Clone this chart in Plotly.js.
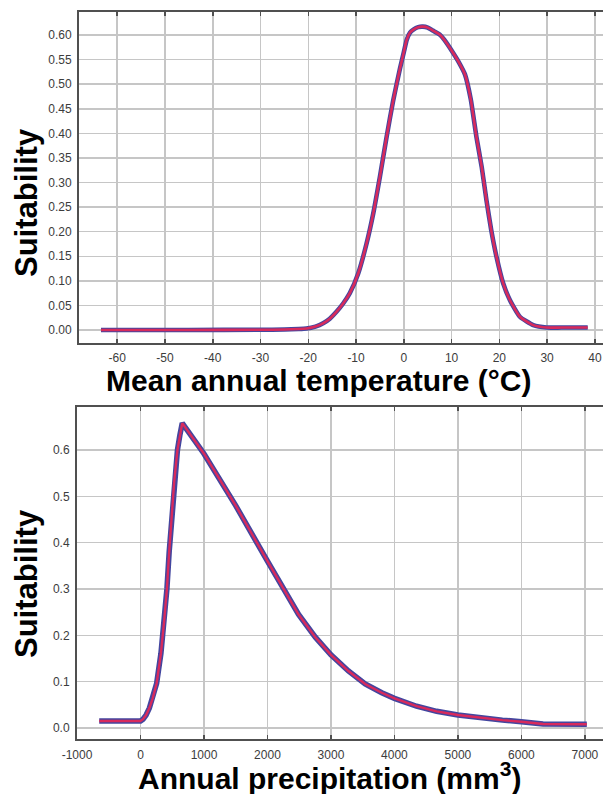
<!DOCTYPE html>
<html>
<head>
<meta charset="utf-8">
<script src="https://cdn.plot.ly/plotly-3.0.1.min.js"></script>
<style>
  html, body { margin: 0; padding: 0; background: #ffffff; }
  #chart { width: 603px; height: 794px; }
</style>
</head>
<body>
<div id="chart"></div>
<script>
// ---- Data ----
// Top panel: Mean annual temperature (°C) vs Suitability
var tempX = [-63.4, -45, -30, -25, -22, -20.4, -18.5, -16.9, -15.5, -14.1, -12.7, -11.3, -9.55, -7.8, -6.4, -5.0, -3.6, -2.2, -0.8, 0, 0.6, 1.3, 2.0, 3.0, 4.0, 5.0, 6.1, 7.5, 8.5, 10.3, 11.5, 12.8, 14.0, 15.2, 16.3, 17.3, 18.3, 19.4, 20.8, 22.2, 24.3, 27.1, 29.9, 33.0, 38.5];
var tempSuit = [0, 0, 0.0005, 0.001, 0.002, 0.003, 0.007, 0.0136, 0.023, 0.037, 0.054, 0.075, 0.115, 0.176, 0.237, 0.312, 0.393, 0.468, 0.532, 0.565, 0.59, 0.605, 0.611, 0.616, 0.617, 0.615, 0.609, 0.601, 0.59, 0.564, 0.545, 0.52, 0.47, 0.393, 0.332, 0.264, 0.203, 0.149, 0.095, 0.061, 0.027, 0.010, 0.005, 0.005, 0.005];
var tempTicks = [-60, -50, -40, -30, -20, -10, 0, 10, 20, 30, 40];
var tempYTicks = [0, 0.05, 0.10, 0.15, 0.20, 0.25, 0.30, 0.35, 0.40, 0.45, 0.50, 0.55, 0.60];

// Bottom panel: Annual precipitation vs Suitability
var precX = [-650, 0, 40, 88, 140, 192, 254, 322, 374, 416, 452, 489, 530, 582, 620, 658, 1000, 1500, 2000, 2250, 2490, 2754, 3000, 3275, 3539, 3800, 4000, 4348, 4665, 5000, 5390, 5700, 6000, 6340, 7030];
var precSuit = [0.015, 0.015, 0.019, 0.028, 0.043, 0.064, 0.096, 0.161, 0.233, 0.300, 0.380, 0.455, 0.530, 0.600, 0.632, 0.658, 0.592, 0.480, 0.360, 0.300, 0.245, 0.196, 0.158, 0.123, 0.095, 0.076, 0.064, 0.047, 0.036, 0.028, 0.021, 0.017, 0.0135, 0.0085, 0.008];
var precTicks = [-1000, 0, 1000, 2000, 3000, 4000, 5000, 6000, 7000];
var precYTicks = [0, 0.1, 0.2, 0.3, 0.4, 0.5, 0.6];

var topXTitle = 'Mean annual temperature (°C)';
var botXTitle = 'Annual precipitation (mm<sup>3</sup>)';
var yTitle = 'Suitability';

// ---- Styling ----
var W = 603, H = 794;
var BLUE = '#43469f', RED = '#d82a5c';
var FONT = 'Liberation Sans, Arial, Helvetica, sans-serif';
function px(x) { return x / W; }
function py(y) { return 1 - y / H; }
function hyphenLabels(arr) { return arr.map(function (v) { return String(v); }); }

var traces = [
  {x: tempX, y: tempSuit, xaxis: 'x', yaxis: 'y', mode: 'lines', line: {color: BLUE, width: 4.6, shape: 'spline', smoothing: 0.5}, hoverinfo: 'skip'},
  {x: tempX, y: tempSuit, xaxis: 'x', yaxis: 'y', mode: 'lines', line: {color: RED, width: 2.6, shape: 'spline', smoothing: 0.5}},
  {x: precX, y: precSuit, xaxis: 'x2', yaxis: 'y2', mode: 'lines', line: {color: BLUE, width: 5.5, shape: 'linear'}, hoverinfo: 'skip'},
  {x: precX, y: precSuit, xaxis: 'x2', yaxis: 'y2', mode: 'lines', line: {color: RED, width: 2.4, shape: 'linear'}}
];

var axisCommon = {
  showgrid: true, gridcolor: '#c6c6c6', gridwidth: 1.5,
  zeroline: false, showline: true, linecolor: '#505050', linewidth: 2,
  tickfont: {family: FONT, size: 12, color: '#3c3c3c'},
  fixedrange: true
};

function merge(a, b) { var o = {}; for (var k in a) o[k] = a[k]; for (var k2 in b) o[k2] = b[k2]; return o; }

var layout = {
  width: W, height: H,
  margin: {l: 0, r: 0, t: 0, b: 0, pad: 0},
  paper_bgcolor: '#ffffff', plot_bgcolor: '#ffffff',
  showlegend: false,
  xaxis: merge(axisCommon, {
    domain: [px(79), 1], range: [-68.0, 41.7], anchor: 'y',
    tickmode: 'array', tickvals: tempTicks, ticktext: hyphenLabels(tempTicks),
    ticks: 'inside', ticklen: 4, tickcolor: '#505050', tickwidth: 1.5,
    mirror: 'ticks', ticklabelstandoff: 3
  }),
  yaxis: merge(axisCommon, {
    domain: [py(343), py(11.7)], range: [-0.0264, 0.6474], anchor: 'x',
    tickmode: 'array', tickvals: tempYTicks, tickformat: '.2f', ticks: '', ticklabelstandoff: 3
  }),
  xaxis2: merge(axisCommon, {
    domain: [px(77), 1], range: [-1000, 7285], anchor: 'y2',
    tickmode: 'array', tickvals: precTicks, ticktext: hyphenLabels(precTicks),
    ticks: 'inside', ticklen: 4, tickcolor: '#505050', tickwidth: 1.5,
    mirror: 'ticks', ticklabelstandoff: 3
  }),
  yaxis2: merge(axisCommon, {
    domain: [py(739.3), py(406.7)], range: [-0.0244, 0.6935], anchor: 'x2',
    tickmode: 'array', tickvals: precYTicks, tickformat: '.1f', ticks: '', ticklabelstandoff: 3
  }),
  annotations: [
    {text: topXTitle, xref: 'paper', yref: 'paper', x: px(318), y: py(380), xanchor: 'center', yanchor: 'middle', showarrow: false,
     font: {family: FONT, size: 30, color: '#000000', weight: 'bold'}},
    {text: botXTitle, xref: 'paper', yref: 'paper', x: px(329), y: py(776), xanchor: 'center', yanchor: 'middle', showarrow: false,
     font: {family: FONT, size: 30, color: '#000000', weight: 'bold'}},
    {text: yTitle, xref: 'paper', yref: 'paper', x: px(26), y: py(203), xanchor: 'center', yanchor: 'middle', textangle: -90, showarrow: false,
     font: {family: FONT, size: 31, color: '#000000', weight: 'bold'}},
    {text: yTitle, xref: 'paper', yref: 'paper', x: px(26), y: py(584), xanchor: 'center', yanchor: 'middle', textangle: -90, showarrow: false,
     font: {family: FONT, size: 31, color: '#000000', weight: 'bold'}}
  ]
};

Plotly.newPlot('chart', traces, layout, {staticPlot: true, displayModeBar: false});
</script>
</body>
</html>
